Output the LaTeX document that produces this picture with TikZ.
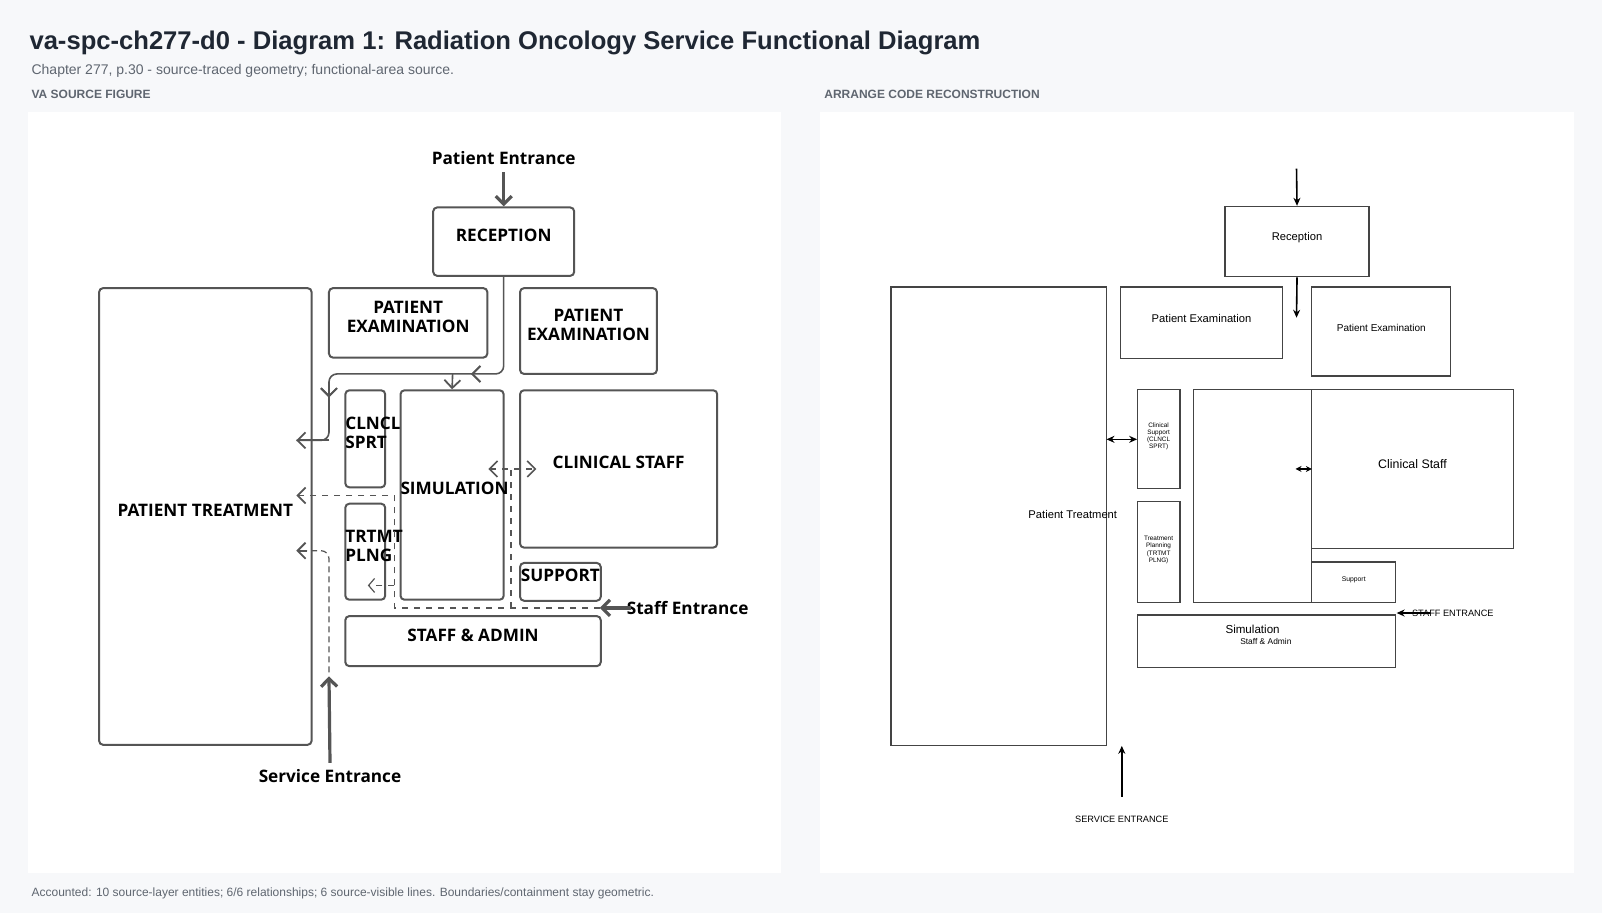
\documentclass[tikz,border=0pt]{standalone}
\usepackage{fontspec}
\setmainfont{Liberation Sans}
\newfontfamily\srcfont{Open Sans}
\usetikzlibrary{arrows.meta,positioning,fit,decorations.markings}

\definecolor{pagebg}{HTML}{F7F8FA}
\definecolor{titlecol}{HTML}{1F2733}
\definecolor{subcol}{HTML}{5F6670}
\definecolor{srcline}{HTML}{555555}
\definecolor{recline}{HTML}{444444}

\tikzset{
  srcroom/.style={draw=srcline, line width=1pt, rounded corners=2pt, inner sep=0pt,
    font=\srcfont\bfseries\fontsize{8.6}{9.6}\selectfont, align=center},
  recroom/.style={draw=recline, line width=0.6pt, inner sep=0pt, align=center,
    font=\fontsize{5.6}{6.5}\selectfont},
  flow/.style={draw=srcline, line width=0.8pt, rounded corners=4pt},
  chev/.style={-{Straight Barb[length=4pt,width=8pt,line width=0.9pt]}},
  bigarrow/.style={draw=srcline, line width=1.6pt, -{Straight Barb[length=4pt,width=8pt]}},
  midchev/.style={postaction={decorate}, decoration={markings,
    mark=at position #1 with {\arrow{Straight Barb[length=4pt,width=8pt,line width=0.9pt]}}}},
  recarrow/.style={draw=black, line width=0.8pt, -{Stealth[length=4pt,width=3.5pt]}},
  entrytext/.style={font=\srcfont\bfseries\fontsize{8.6}{9.6}\selectfont}
}

\begin{document}
\begin{tikzpicture}[x=0.511pt, y=-0.511pt]

% page and panels
\fill[pagebg] (0,0) rectangle (1568,894);
\useasboundingbox (0,0) rectangle (1568,894);
\fill[white] (27,110) rectangle (764,854);
\fill[white] (803,110) rectangle (1541,854);

% heading
\node[anchor=west, font=\bfseries\fontsize{12.8}{15}\selectfont, text=titlecol] (title) at (22,42)
  {va-spc-ch277-d0 - Diagram 1: Radiation Oncology Service Functional Diagram};
\node[anchor=west, font=\fontsize{7}{8}\selectfont, text=subcol] (subtitle) at (24,69)
  {Chapter 277, p.30 - source-traced geometry; functional-area source.};
\node[anchor=west, font=\bfseries\fontsize{6}{7}\selectfont, text=subcol] (lefthead) at (24,92) {VA SOURCE FIGURE};
\node[anchor=west, font=\bfseries\fontsize{6}{7}\selectfont, text=subcol] (righthead) at (800,92) {ARRANGE CODE RECONSTRUCTION};
\node[anchor=west, font=\fontsize{6}{7}\selectfont, text=subcol] (footer) at (24,874)
  {Accounted: 10 source-layer entities; 6/6 relationships; 6 source-visible lines. Boundaries/containment stay geometric.};

% ---- VA source figure ----
\node[srcroom, fit={(424,203) (562,270)}] (rec) {RECEPTION};
\node[srcroom, fit={(322,282) (477,350)}] (exama) {PATIENT\\EXAMINATION};
\node[srcroom, fit={(509,282) (643,366)}] (examb) {PATIENT\\EXAMINATION};
\node[srcroom, fit={(97,282) (305,729)}] (treat) {PATIENT TREATMENT};
\node[srcroom, fit={(338,382) (377,477)}] (clncl) {CLNCL\\SPRT};
\node[srcroom, fit={(392,382) (493,587)}] (sim) {SIMULATION};
\node[srcroom, fit={(509,382) (702,536)}] (cstaff) {CLINICAL STAFF};
\node[srcroom, fit={(338,493) (377,587)}] (trtmt) {TRTMT\\PLNG};
\node[srcroom, fit={(509,551) (588,588)}] (support) {SUPPORT};
\node[srcroom, fit={(338,603) (588,652)}] (admin) {STAFF \& ADMIN};

\node[entrytext] (pentry) at (493,155) {Patient Entrance};
\node[entrytext] (sentry) at (673,595) {Staff Entrance};
\node[entrytext] (ventry) at (323,760) {Service Entrance};

% patient flow
\coordinate (recout) at (rec.south);
\coordinate (trtin) at (290,431);
\draw[bigarrow] (pentry.south) -- (rec.north);
\draw[flow, midchev=0.35, midchev=0.8] (recout) -- (493,366) -- (322,366) -- (322,431) -- (trtin);
\draw[srcline, line width=0.9pt, chev] (322.5,431) -- (trtin);
\draw[srcline, line width=0.8pt, chev] (443,366) -- (sim.north);

% staff flow (dashed)
\coordinate (sjoin) at (587,595);
\coordinate (strt) at (290,485);
\draw[bigarrow] (618,595) -- (sjoin);
\draw[srcline, line width=0.8pt, dashed, chev] (sjoin) -- (386,595) -- (386,485) -- (strt);
\draw[srcline, line width=0.8pt, dashed] (500,595) -- (500,459);
\draw[srcline, line width=0.8pt, dashed, {Straight Barb[length=4pt,width=8pt]}-{Straight Barb[length=4pt,width=8pt]}] (478,459) -- (525,459);
\draw[srcline, line width=0.6pt, dashed, -{Straight Barb[length=3pt,width=7pt]}] (386,573) -- (360,573);

% service flow (dotted)
\coordinate (vtrt) at (290,539);
\draw[bigarrow] (ventry.north) -- (322,662);
\draw[srcline, line width=0.6pt, densely dashed, rounded corners=4pt] (322,658) -- (322,539) -- (300,539);
\draw[srcline, line width=0.9pt, chev] (300,539) -- (vtrt);

% ---- arrange code reconstruction ----
\node[recroom, fit={(1199,202) (1340,271)}] (rrec) {Reception};
\node[recroom, fit={(1097,281) (1255,351)}] (rexama) {Patient Examination};
\node[recroom, fit={(1284,281) (1420,368)}, font=\fontsize{5}{6}\selectfont] (rexamb) {Patient Examination};
\node[recroom, fit={(872,281) (1083,730)}] (rtreat) {};
\node[font=\fontsize{5.6}{6.5}\selectfont] (rtreatlbl) at (1050,504) {Patient Treatment};
\node[recroom, fit={(1113,381) (1155,478)}, font=\fontsize{3.2}{3.6}\selectfont] (rclncl) {Clinical\\Support\\(CLNCL\\SPRT)};
\node[recroom, fit={(1113,491) (1155,590)}, font=\fontsize{3.2}{3.6}\selectfont] (rtrtmt) {Treatment\\Planning\\(TRTMT\\PLNG)};
\node[recroom, fit={(1168,381) (1284,590)}] (rsim) {};
\node[recroom, fit={(1284,381) (1481,537)}, font=\fontsize{6.2}{7}\selectfont] (rcstaff) {Clinical Staff};
\node[recroom, fit={(1284,550) (1366,590)}, font=\fontsize{3.4}{4}\selectfont] (rsupport) {Support};
\node[recroom, fit={(1113,602) (1366,653)}] (radmin) {};
\node[font=\fontsize{5.8}{6.5}\selectfont] (rsimlbl) at (1226,616) {Simulation};
\node[font=\fontsize{4.2}{5}\selectfont] (radminlbl) at (1239,628) {Staff \& Admin};

\coordinate (rtop) at (1269,165);
\coordinate (rrecdown) at (1269,311);
\draw[recarrow] (rtop) -- (rrec.north);
\draw[recarrow] (rrec.south) -- (rrecdown);
\draw[recarrow, {Stealth[length=4pt,width=3.5pt]}-{Stealth[length=4pt,width=3.5pt]}] (1083,430) -- (1113,430);
\draw[recarrow, {Stealth[length=3pt,width=3pt]}-{Stealth[length=3pt,width=3pt]}] (1268,459) -- (1284,459);

\node[font=\fontsize{4.6}{5}\selectfont] (rsentry) at (1422,600) {STAFF ENTRANCE};
\coordinate (rsin) at (1367,600);
\draw[recarrow] (1400,600) -- (rsin);
\node[font=\fontsize{4.6}{5}\selectfont] (rventry) at (1098,802) {SERVICE ENTRANCE};
\draw[recarrow] (1098,780) -- (1098,730);

\end{tikzpicture}
\end{document}
